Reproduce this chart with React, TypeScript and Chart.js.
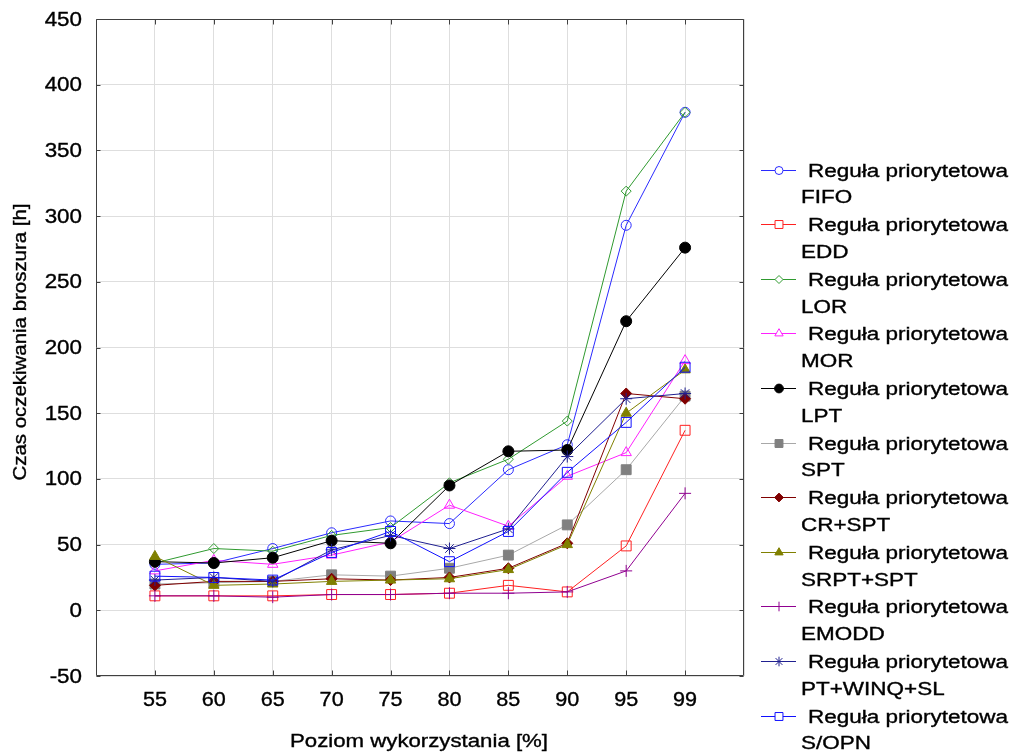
import React, { useEffect, useRef } from 'react';
import { Chart, registerables } from 'chart.js';
import { drawPoint } from 'chart.js/helpers';

Chart.register(...registerables);

// ---------- DATA ----------
const xLabels = ['55', '60', '65', '70', '75', '80', '85', '90', '95', '99'];
const yMin = -50;
const yMax = 450;
const yStep = 50;

const seriesPrefix = 'Reguła priorytetowa';
const seriesNames = ['FIFO', 'EDD', 'LOR', 'MOR', 'LPT', 'SPT', 'CR+SPT', 'SRPT+SPT', 'EMODD', 'PT+WINQ+SL', 'S/OPN'];

const fifo = [35, 36, 47, 59, 68, 66, 107, 126, 293, 379];
const edd = [11, 11, 11, 12, 12, 13, 19, 14, 49, 137];
const lor = [36, 47, 45, 57, 63, 97, 115, 144, 319, 379];
const mor = [30, 38, 35, 42, 52, 80, 64, 102, 120, 190];
const lpt = [37, 36, 40, 53, 51, 95, 121, 122, 220, 276];
const spt = [20, 21, 22, 27, 26, 32, 42, 65, 107, 163];
const crSpt = [19, 22, 22, 24, 23, 25, 32, 51, 165, 161];
const srptSpt = [41, 19, 20, 22, 23, 24, 31, 50, 150, 183];
const emodd = [11, 11, 10, 12, 12, 13, 13, 14, 30, 89];
const ptWinqSl = [23, 25, 22, 46, 57, 47, 62, 117, 161, 165];
const sOpn = [26, 25, 23, 44, 60, 37, 60, 105, 143, 185];

const seriesValues = [fifo, edd, lor, mor, lpt, spt, crSpt, srptSpt, emodd, ptWinqSl, sOpn];

// ---------- STYLES ----------
const TRANSPARENT = 'rgba(0,0,0,0)';
const styles = [
  { line: '#2a2aff', border: '#2a2aff', fill: TRANSPARENT, shape: 'circle', r: 5 },
  { line: '#ff2020', border: '#ff2020', fill: TRANSPARENT, shape: 'rect', r: 7 },
  { line: '#2f9a2f', border: '#2f9a2f', fill: TRANSPARENT, shape: 'rectRot', r: 5 },
  { line: '#ff20ff', border: '#ff20ff', fill: TRANSPARENT, shape: 'triangle', r: 6 },
  { line: '#000000', border: '#000000', fill: '#000000', shape: 'circle', r: 5.5 },
  { line: '#a8a8a8', border: '#808080', fill: '#808080', shape: 'rect', r: 7 },
  { line: '#800000', border: '#800000', fill: '#800000', shape: 'rectRot', r: 5.5 },
  { line: '#808000', border: '#808000', fill: '#808000', shape: 'triangle', r: 6 },
  { line: '#900090', border: '#900090', fill: TRANSPARENT, shape: 'cross', r: 6 },
  { line: '#202090', border: '#202090', fill: TRANSPARENT, shape: 'star', r: 6 },
  { line: '#1010ff', border: '#1010ff', fill: TRANSPARENT, shape: 'rect', r: 7 },
];

const FONT = '"Liberation Sans", Arial, Helvetica, sans-serif';

function drawText(ctx: CanvasRenderingContext2D, text: string, x: number, y: number, size: number, sx: number, align: CanvasTextAlign, baseline: CanvasTextBaseline, rotate = false) {
  ctx.save();
  ctx.translate(x, y);
  if (rotate) ctx.rotate(-Math.PI / 2);
  ctx.scale(sx, 1);
  ctx.font = `${size}px ${FONT}`;
  ctx.fillStyle = '#000000';
  ctx.strokeStyle = '#000000';
  ctx.lineWidth = 0.35;
  ctx.textAlign = align;
  ctx.textBaseline = baseline;
  ctx.fillText(text, 0, 0);
  ctx.strokeText(text, 0, 0);
  ctx.restore();
}

function fitScale(ctx: CanvasRenderingContext2D, text: string, size: number, target: number) {
  ctx.save();
  ctx.font = `${size}px ${FONT}`;
  const w = ctx.measureText(text).width;
  ctx.restore();
  return w > 0 ? target / w : 1;
}

const framePlugin = {
  id: 'frameAndText',
  afterDatasetsDraw(chart: any) {
    const ctx: CanvasRenderingContext2D = chart.ctx;
    const a = chart.chartArea;
    const xs = chart.scales.x;
    const ys = chart.scales.y;
    ctx.save();
    ctx.strokeStyle = '#404040';
    ctx.lineWidth = 1;
    ctx.beginPath();
    const L = Math.round(a.left) + 0.5, R = Math.round(a.right) - 0.5;
    const T = Math.round(a.top) + 0.5, B = Math.round(a.bottom) - 0.5;
    ctx.rect(L, T, R - L, B - T);
    // inward ticks
    ys.ticks.forEach((t: any) => {
      const y = Math.round(ys.getPixelForValue(t.value)) + 0.5;
      ctx.moveTo(L, y); ctx.lineTo(L + 4, y);
      ctx.moveTo(R, y); ctx.lineTo(R - 4, y);
    });
    for (let i = 1; i <= xLabels.length; i++) {
      const x = Math.round(xs.getPixelForTick(i)) + 0.5;
      ctx.moveTo(x, B); ctx.lineTo(x, B - 5);
      ctx.moveTo(x, T); ctx.lineTo(x, T + 5);
    }
    ctx.stroke();
    ctx.restore();
  },
  afterDraw(chart: any) {
    const ctx: CanvasRenderingContext2D = chart.ctx;
    const xs = chart.scales.x;
    const ys = chart.scales.y;
    // y tick labels
    ys.ticks.forEach((t: any) => {
      const y = ys.getPixelForValue(t.value);
      drawText(ctx, String(t.value), 82, y + 1, 20, 1.12, 'right', 'middle');
    });
    // x tick labels
    xLabels.forEach((lab, i) => {
      const x = xs.getPixelForTick(i + 1);
      drawText(ctx, lab, x, 700, 20, 1.08, 'center', 'middle');
    });
    // axis titles
    const xt = 'Poziom wykorzystania [%]';
    drawText(ctx, xt, 419, 742, 18, fitScale(ctx, xt, 18, 258), 'center', 'middle');
    const yt = 'Czas oczekiwania broszura [h]';
    drawText(ctx, yt, 21, 342, 17.5, fitScale(ctx, yt, 17.5, 277), 'center', 'middle', true);
    // legend
    const sx = fitScale(ctx, seriesPrefix, 18, 200);
    seriesNames.forEach((name, i) => {
      const st = styles[i];
      const base = 176.5 + i * 54.6;
      const ly = base - 7;
      ctx.save();
      ctx.strokeStyle = st.line;
      ctx.lineWidth = 1;
      ctx.beginPath();
      ctx.moveTo(761, Math.round(ly) + 0.5);
      ctx.lineTo(796, Math.round(ly) + 0.5);
      ctx.stroke();
      ctx.strokeStyle = st.border;
      ctx.fillStyle = st.fill === TRANSPARENT ? '#ffffff' : st.fill;
      drawPoint(ctx, { pointStyle: st.shape, radius: st.r * 0.8, borderWidth: 1, rotation: 0 } as any, 779, Math.round(ly) + 0.5);
      ctx.restore();
      drawText(ctx, seriesPrefix, 808, base, 18, sx, 'left', 'alphabetic');
      drawText(ctx, name, 801, base + 26.8, 18, sx, 'left', 'alphabetic');
    });
  },
};

export default function App() {
  const ref = useRef<HTMLCanvasElement | null>(null);

  useEffect(() => {
    if (!ref.current) return;
    const labels = ['', ...xLabels, ''];
    const n = seriesNames.length;
    const datasets = seriesNames.map((name, i) => {
      const st = styles[i];
      return {
        label: `${seriesPrefix} ${name}`,
        data: [null, ...seriesValues[i], null],
        borderColor: st.line,
        backgroundColor: st.fill,
        borderWidth: 1,
        pointStyle: st.shape,
        pointRadius: st.r,
        pointBorderColor: st.border,
        pointBackgroundColor: st.fill,
        pointBorderWidth: 1,
        tension: 0,
        spanGaps: false,
        fill: false,
        order: n - i,
      };
    });
    const chart = new Chart(ref.current, {
      type: 'line',
      data: { labels, datasets: datasets as any },
      options: {
        animation: false,
        responsive: false,
        devicePixelRatio: 1,
        layout: { padding: { left: 96, top: 19, right: 269, bottom: 76 } },
        plugins: { legend: { display: false }, tooltip: { enabled: false } },
        scales: {
          x: {
            type: 'category',
            offset: false,
            grid: { color: '#dedede', lineWidth: 1, drawTicks: false, tickLength: 0 },
            border: { display: false },
            ticks: { display: false },
          },
          y: {
            type: 'linear',
            min: yMin,
            max: yMax,
            ticks: { display: false, stepSize: yStep },
            grid: { color: '#dedede', lineWidth: 1, drawTicks: false, tickLength: 0 },
            border: { display: false },
          },
        },
      },
      plugins: [framePlugin],
    });
    return () => chart.destroy();
  }, []);

  return (
    <div style={{ position: 'absolute', left: 0, top: 0, width: 1013, height: 752, background: '#ffffff' }}>
      <canvas ref={ref} width={1013} height={752} style={{ width: 1013, height: 752, display: 'block' }} />
    </div>
  );
}
